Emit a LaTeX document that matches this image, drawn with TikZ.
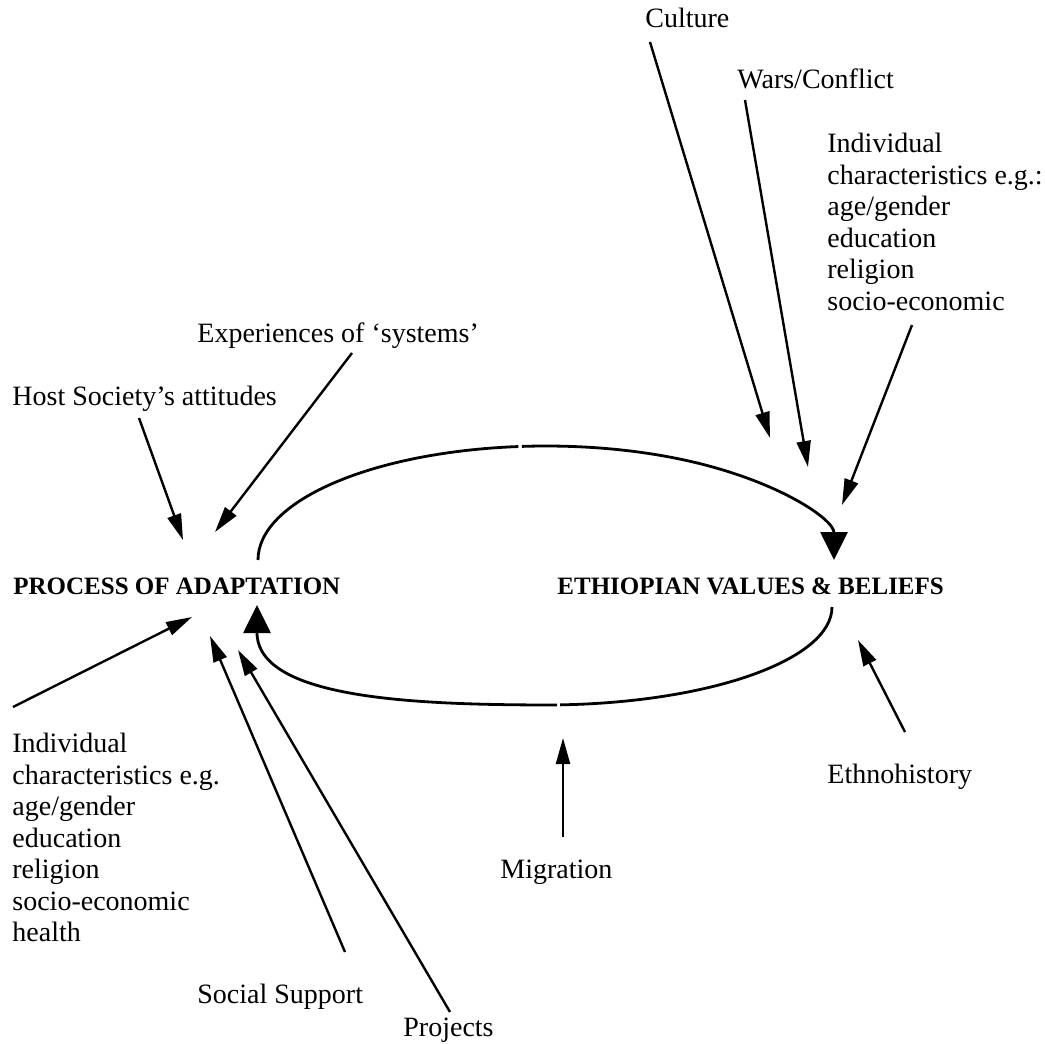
\documentclass[tikz,border=0pt]{standalone}
\usepackage{fontspec}
\setmainfont{Liberation Serif}
\usetikzlibrary{arrows.meta}

\begin{document}
\begin{tikzpicture}[x=0.5pt,y=0.5pt,
    lbl/.style={anchor=base west,inner sep=0pt,font=\fontsize{14}{15.75}\selectfont},
    lblm/.style={anchor=north west,inner sep=0pt,align=left,font=\fontsize{14}{15.75}\selectfont},
    hd/.style={anchor=base west,inner sep=0pt,font=\fontsize{12.5}{15}\selectfont\bfseries},
    feed/.style={line width=1.2pt,-{Triangle[length=13pt,width=7pt]}},
    loopline/.style={line width=1.4pt},
    bigtip/.tip={Triangle[length=14pt,width=13.5pt]}]
    \useasboundingbox (0,0) rectangle (1045,-1044);

    % labels
    \node[lbl] (culture) at (645,-27) {Culture};
    \node[lbl] (wars) at (737,-88) {Wars/Conflict};
    \node[lblm] (indivr) at (827,-133) {Individual\\characteristics e.g.:\\age/gender\\education\\religion\\socio-economic};
    \node[lbl] (systems) at (197,-342) {Experiences of ‘systems’};
    \node[lbl] (host) at (12,-405) {Host Society’s attitudes};
    \node[hd] (adapt) at (13,-594) {PROCESS OF ADAPTATION};
    \node[hd] (ethvb) at (557,-594) {ETHIOPIAN VALUES \& BELIEFS};
    \node[lblm] (indivl) at (12,-733) {Individual\\characteristics e.g.\\age/gender\\education\\religion\\socio-economic\\health};
    \node[lbl] (ethno) at (827,-783) {Ethnohistory};
    \node[lbl] (migration) at (500,-878) {Migration};
    \node[lbl] (social) at (197,-1003) {Social Support};
    \node[lbl] (projects) at (403,-1036) {Projects};

    % arrow ends
    \coordinate (culture-end) at (770,-438);
    \coordinate (wars-end) at (808,-467);
    \coordinate (indivr-end) at (842,-505);
    \coordinate (systems-end) at (215,-532);
    \coordinate (host-end) at (183,-540);
    \coordinate (indivl-end) at (192,-617);
    \coordinate (social-end) at (210,-636);
    \coordinate (projects-end) at (238,-650);
    \coordinate (migration-end) at (563,-738);
    \coordinate (ethno-end) at (858,-640);

    \foreach \from/\dx/\dy in {culture/5/-15, wars/8/-12, systems/155/-11, host/127/-13,
        social/148/51, projects/47/24, migration/63/41, ethno/78/51}
        \draw[feed] ([shift={(\dx,\dy)}]\from.base west) -- (\from-end);
    \draw[feed] ([shift={(85,-192)}]indivr.north west) -- (indivr-end);
    \draw[feed] ([shift={(1,26)}]indivl.north west) -- (indivl-end);

    % the loop between the two
    \coordinate (adapt-top) at ([shift={(245,34)}]adapt.base west);
    \coordinate (ethvb-top) at ([shift={(277,34)}]ethvb.base west);
    \coordinate (ethvb-bot) at ([shift={(275,-13)}]ethvb.base west);
    \coordinate (adapt-bot) at ([shift={(244,-11)}]adapt.base west);
    \coordinate (loop-low) at (557,-705);
    \draw[loopline] (adapt-top) arc[start angle=180,end angle=95.5,x radius=288,y radius=114];
    \draw[loopline,bigtip-] (ethvb-top) arc[start angle=0,end angle=94.8,x radius=288,y radius=114];
    \draw[loopline] (ethvb-bot) arc[start angle=0,end angle=-87,x radius=287,y radius=98];
    \draw[loopline,-bigtip] (loop-low) .. controls (420,-705) and (257,-700) .. (adapt-bot);
\end{tikzpicture}
\end{document}
